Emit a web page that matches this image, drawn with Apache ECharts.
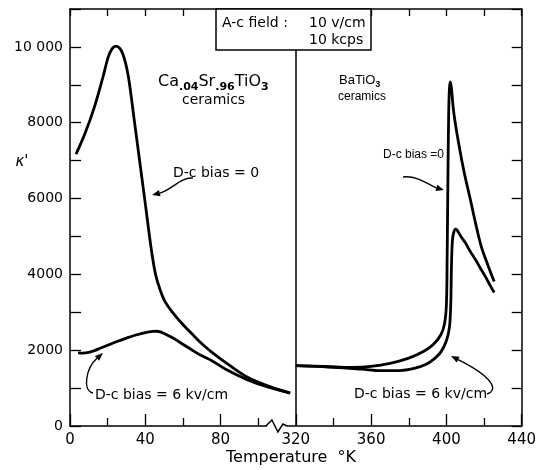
<!DOCTYPE html>
<html><head><meta charset="utf-8">
<script src="https://cdn.jsdelivr.net/npm/echarts@6/dist/echarts.min.js"></script>
<style>html,body{margin:0;padding:0;background:#fff}#c{width:539px;height:470px}</style>
</head><body><div id="c"></div>
<script>
// Ca.04Sr.96TiO3 ceramics (left panel, temperature in K)
const caTempBias0  = [3.2, 8, 13, 17.5, 20.3, 22.5, 24.5, 26.5, 28, 29.5, 31, 32.5, 34, 35.5, 37.3, 39.2, 40.8, 42.2, 43.8, 45.5, 47.7, 50.5, 54.6, 58.3, 62, 66, 70.5, 75.8, 85, 93.8, 105, 117];
const caKappaBias0 = [7170, 7720, 8420, 9200, 9730, 9960, 10020, 9960, 9820, 9580, 9220, 8700, 8120, 7560, 6880, 6170, 5560, 5020, 4460, 3990, 3620, 3280, 2990, 2770, 2570, 2370, 2150, 1930, 1590, 1300, 1060, 870];
const caTempBias6  = [4.3, 7, 10, 13, 16, 20, 25, 30, 35, 40, 44, 46, 48, 50, 54, 58.3, 64, 69, 75.8, 83, 93.8, 105, 117];
const caKappaBias6 = [1930, 1925, 1945, 1990, 2050, 2130, 2230, 2320, 2400, 2460, 2495, 2500, 2485, 2440, 2340, 2210, 2030, 1880, 1710, 1490, 1230, 1030, 870];
// BaTiO3 ceramics (right panel)
const baTempBias0  = [320, 335, 350, 360, 370, 380, 388, 393, 397, 399, 400, 400.4, 400.8, 401.2, 401.6, 402.1, 402.7, 403.7, 405, 406.4, 408, 410, 412.7, 415.4, 418.5, 422.3, 425.4];
const baKappaBias0 = [1590, 1570, 1545, 1570, 1650, 1790, 1970, 2150, 2400, 2700, 3200, 4500, 6500, 8200, 8900, 9080, 8900, 8360, 7900, 7490, 7050, 6560, 5980, 5370, 4740, 4210, 3810];
const baTempBias6  = [320, 340, 355, 365, 375, 383, 389, 393, 397, 400, 401.6, 402.3, 402.6, 402.9, 403.3, 404, 404.8, 405.5, 406.5, 408, 410, 412.5, 415.4, 418, 420.7, 423, 425.4];
const baKappaBias6 = [1590, 1550, 1500, 1460, 1460, 1520, 1620, 1750, 1950, 2250, 2600, 3200, 4000, 4600, 4950, 5120, 5190, 5180, 5100, 4980, 4840, 4620, 4390, 4170, 3940, 3730, 3520];
// axis settings
const breakStart = 120, breakEnd = 320;   // gap removed from temperature axis
const xLabelValues = [0, 40, 80, 320, 360, 400, 440];
const yLabelValues = [0, 2000, 4000, 6000, 8000, 10000];

const gap = breakEnd - breakStart;
const toAxis = t => t >= breakEnd ? t - gap : t;
const fromAxis = v => v >= breakStart ? v + gap : v;
const FONT = 'DejaVu Sans';
const FONT2 = 'Liberation Sans';
const pairs = (ts, ks) => ts.map((t, i) => [toAxis(t), ks[i]]);

const chart = echarts.init(document.getElementById('c'), null, {renderer: 'canvas'});
const lineStyle = {color: '#000', width: 2.8};
const mkSeries = (data, extra) => Object.assign({
  type: 'line', data, symbol: 'none', smooth: 0.35,
  lineStyle, silent: true, animation: false
}, extra || {});

function arrow(x1, y1, c1x, c1y, c2x, c2y, x2, y2) {
  const dx = x2 - c2x, dy = y2 - c2y, L = Math.hypot(dx, dy);
  const ux = dx / L, uy = dy / L, len = 8, hw = 3.2;
  const bx = x2 - ux * len, by = y2 - uy * len;
  return [
    {type: 'bezierCurve', z: 100, shape: {x1, y1, cpx1: c1x, cpy1: c1y, cpx2: c2x, cpy2: c2y, x2: bx, y2: by},
     style: {stroke: '#000', lineWidth: 1.4, fill: null}},
    {type: 'polygon', z: 100, shape: {points: [[x2, y2], [bx - uy * hw, by + ux * hw], [bx + uy * hw, by - ux * hw]]},
     style: {fill: '#000'}}
  ];
}
function label(x, y, text, size, family, extra) {
  return {type: 'text', z: 101, x, y, style: Object.assign({text, fill: '#000', font: size + 'px "' + (family || FONT) + '"', verticalAlign: 'middle'}, extra || {})};
}
function richFormula(x, y, parts, size, family) {
  return {type: 'text', z: 100, x, y, style: {
    text: parts.map(p => p[1] ? '{s|' + p[0] + '}' : '{n|' + p[0] + '}').join(''),
    verticalAlign: 'middle',
    rich: {
      n: {fontFamily: family, fontSize: size, fill: '#000', verticalAlign: 'bottom'},
      s: {fontFamily: family, fontSize: Math.round(size * 0.66), fill: '#000', verticalAlign: 'bottom', fontWeight: 'bold', padding: [0, 0, -3, 0]}
    }
  }};
}

const axisLine = {show: true, onZero: false, lineStyle: {color: '#000', width: 1.5}};
const option = {
  animation: false,
  backgroundColor: '#fff',
  grid: {left: 70, right: 13, top: 9, bottom: 44},
  xAxis: [
    {type: 'value', position: 'bottom', min: 0, max: 240, interval: 40, axisLine,
     axisTick: {show: true, inside: true, length: 12, lineStyle: {color: '#000', width: 1.3}},
     minorTick: {show: true, splitNumber: 2, length: 8, lineStyle: {color: '#000', width: 1.3}},
     splitLine: {show: false}, minorSplitLine: {show: false},
     axisLabel: {margin: 7, color: '#000', fontFamily: FONT, fontSize: 15,
       formatter: v => xLabelValues.indexOf(fromAxis(v)) >= 0 ? String(fromAxis(v)) : ''}},
    {type: 'value', position: 'top', min: 0, max: 240, interval: 20, axisLine,
     axisTick: {show: true, inside: true, length: 7, lineStyle: {color: '#000', width: 1.3}},
     axisLabel: {show: false}, splitLine: {show: false}}
  ],
  yAxis: [
    {type: 'value', position: 'left', min: 0, max: 11000, interval: 1000, axisLine,
     axisTick: {show: true, inside: true, length: 11, lineStyle: {color: '#000', width: 1.3}},
     splitLine: {show: false},
     axisLabel: {margin: 7, color: '#000', fontFamily: FONT, fontSize: 14,
       formatter: v => yLabelValues.indexOf(v) >= 0 ? (v === 10000 ? '10 000' : String(v)) : ''}},
    {type: 'value', position: 'right', min: 0, max: 11000, interval: 1000, axisLine,
     axisTick: {show: true, inside: true, length: 10, lineStyle: {color: '#000', width: 1.3}},
     axisLabel: {show: false}, splitLine: {show: false}}
  ],
  series: [
    mkSeries(pairs(caTempBias0, caKappaBias0), {
      markLine: {silent: true, symbol: ['none', 'none'], label: {show: false},
        lineStyle: {color: '#000', width: 1.5, type: 'solid'}, data: [{xAxis: breakStart}]}
    }),
    mkSeries(pairs(caTempBias6, caKappaBias6)),
    mkSeries(pairs(baTempBias0, baKappaBias0)),
    mkSeries(pairs(baTempBias6, baKappaBias6))
  ]
};
chart.setOption(option);

// decorations positioned relative to the axes
const y0 = chart.convertToPixel({yAxisIndex: 0}, 0);
const bx = chart.convertToPixel({xAxisIndex: 0}, 111);
const g = [];
g.push({type: 'rect', z: 100, shape: {x: bx - 12, y: y0 - 3, width: 20, height: 6}, style: {fill: '#fff'}});
g.push({type: 'polyline', z: 101, shape: {points: [[bx - 13, y0], [bx - 7, y0 - 6], [bx - 1, y0 + 6], [bx + 4, y0 - 2], [bx + 8, y0]]},
  style: {stroke: '#000', lineWidth: 1.5, fill: null}});
// field box
g.push({type: 'rect', z: 100, shape: {x: 216, y: 9, width: 155, height: 41}, style: {fill: '#fff', stroke: '#000', lineWidth: 1.5}});
g.push(label(222, 23, 'A-c field :', 14));
g.push(label(309, 23, '10 v/cm', 14));
g.push(label(309, 40, '10 kcps', 14));
// panel titles
g.push(richFormula(158, 82, [['Ca'], ['.04', 1], ['Sr'], ['.96', 1], ['TiO'], ['3', 1]], 16, FONT));
g.push(label(182, 100, 'ceramics', 14));
g.push(richFormula(339, 80, [['BaTiO'], ['3', 1]], 13, FONT2));
g.push(label(338, 97, 'ceramics', 12, FONT2));
// curve labels
g.push(label(173, 173, 'D-c bias = 0', 14));
g.push(label(383, 155, 'D-c bias =0', 12, FONT2));
g.push(label(95, 395, 'D-c bias = 6 kv/cm', 14));
g.push(label(354, 394, 'D-c bias = 6 kv/cm', 14));
// axis names
g.push(label(291, 458, 'Temperature  °K', 16, FONT, {align: 'center'}));
g.push(label(22, 162, "κ'", 15, FONT, {align: 'center', font: 'italic 15px "' + FONT + '"'}));
// arrows
g.push(...arrow(193, 178, 180, 177, 172, 190, 152, 195));
g.push(...arrow(403, 177, 418, 175, 430, 186, 444, 190));
g.push(...arrow(93, 393, 82, 391, 86, 368, 103, 353));
g.push(...arrow(487, 394, 499, 390, 493, 377, 451, 356));
chart.setOption({graphic: {elements: g}});
</script>
</body></html>
